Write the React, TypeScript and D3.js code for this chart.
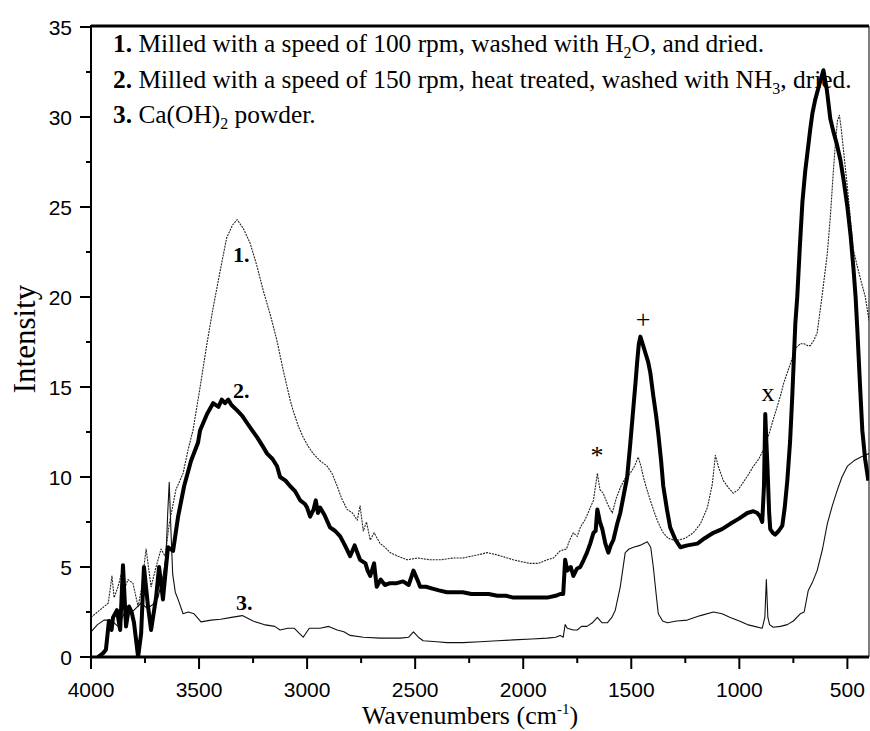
import React from "react";
import * as d3 from "d3";

// Series 1: milled 100 rpm, washed with H2O (thin dotted)
const wn1 = [4000, 3970, 3940, 3920, 3903, 3893, 3875, 3860, 3845, 3829, 3806, 3782, 3768, 3745, 3722, 3699, 3676, 3657, 3638, 3607, 3574, 3551, 3528, 3495, 3465, 3435, 3400, 3372, 3345, 3324, 3295, 3264, 3234, 3204, 3170, 3140, 3110, 3079, 3065, 3040, 3018, 2995, 2972, 2940, 2907, 2885, 2861, 2840, 2815, 2790, 2768, 2755, 2740, 2725, 2708, 2690, 2662, 2640, 2616, 2580, 2537, 2490, 2431, 2380, 2324, 2280, 2240, 2200, 2167, 2130, 2100, 2046, 2010, 1968, 1930, 1889, 1860, 1829, 1800, 1785, 1768, 1750, 1736, 1715, 1700, 1690, 1675, 1657, 1645, 1630, 1610, 1588, 1570, 1551, 1530, 1505, 1485, 1468, 1455, 1444, 1430, 1412, 1395, 1380, 1365, 1352, 1330, 1306, 1280, 1250, 1213, 1180, 1148, 1125, 1111, 1095, 1074, 1050, 1028, 1005, 982, 960, 935, 910, 889, 865, 843, 825, 810, 795, 778, 755, 736, 718, 700, 685, 671, 655, 640, 620, 593, 578, 565, 555, 546, 537, 528, 515, 500, 485, 472, 454, 435, 417, 400];
const s1 = [2.2, 2.5, 2.8, 3.0, 4.5, 3.3, 3.9, 4.6, 3.8, 4.3, 4.1, 2.8, 3.7, 6.0, 3.9, 5.0, 6.0, 5.6, 7.4, 9.3, 10.2, 11.5, 12.6, 15.0, 17.3, 19.4, 21.6, 23.3, 24.0, 24.3, 23.8, 23.0, 21.8, 20.4, 19.0, 17.6, 15.9, 14.3, 13.7, 12.8, 12.2, 11.7, 11.3, 10.9, 10.6, 10.2, 9.5, 8.8, 8.2, 8.0, 7.6, 8.4, 7.0, 7.5, 6.5, 6.9, 6.3, 6.1, 5.8, 5.6, 5.4, 5.5, 5.4, 5.4, 5.5, 5.5, 5.6, 5.7, 5.8, 5.7, 5.6, 5.4, 5.3, 5.2, 5.2, 5.4, 5.5, 5.9, 6.0, 6.5, 6.9, 6.7, 7.2, 7.6, 8.0, 8.3, 8.7, 10.2, 9.3, 9.1, 8.5, 8.0, 8.8, 9.4, 9.9, 10.2, 10.6, 11.1, 10.6, 10.0, 9.4, 8.7, 8.1, 7.6, 7.2, 6.9, 6.6, 6.5, 6.5, 6.6, 6.9, 7.4, 8.3, 9.6, 11.2, 10.5, 9.8, 9.4, 9.1, 9.3, 9.7, 10.1, 10.6, 11.0, 11.5, 12.3, 13.2, 13.9, 14.5, 15.2, 15.8, 16.6, 17.2, 17.4, 17.4, 17.3, 17.3, 17.6, 18.0, 19.8, 22.4, 24.6, 27.0, 28.6, 29.8, 30.1, 29.3, 27.8, 26.1, 24.2, 22.6, 21.7, 20.8, 20.0, 18.7];

// Series 2: milled 150 rpm, heat treated, washed with NH3 (thick)
const wn2 = [3968, 3945, 3931, 3917, 3905, 3898, 3880, 3865, 3852, 3838, 3824, 3812, 3801, 3782, 3768, 3755, 3736, 3722, 3699, 3685, 3667, 3644, 3620, 3597, 3569, 3537, 3505, 3495, 3463, 3435, 3410, 3395, 3380, 3365, 3350, 3324, 3300, 3278, 3255, 3231, 3210, 3185, 3160, 3139, 3125, 3100, 3079, 3055, 3032, 3010, 3000, 2986, 2970, 2960, 2950, 2940, 2920, 2894, 2870, 2847, 2825, 2801, 2780, 2768, 2755, 2730, 2720, 2708, 2690, 2678, 2660, 2640, 2616, 2585, 2556, 2530, 2508, 2490, 2477, 2450, 2420, 2390, 2353, 2320, 2280, 2240, 2199, 2160, 2120, 2080, 2046, 2000, 1950, 1920, 1889, 1850, 1829, 1815, 1806, 1796, 1780, 1768, 1752, 1736, 1720, 1705, 1690, 1675, 1665, 1657, 1645, 1634, 1620, 1606, 1595, 1583, 1565, 1551, 1535, 1519, 1505, 1490, 1480, 1472, 1465, 1458, 1445, 1435, 1422, 1412, 1398, 1385, 1375, 1362, 1352, 1335, 1320, 1295, 1273, 1240, 1194, 1160, 1120, 1080, 1042, 1000, 963, 935, 917, 904, 894, 886, 880, 875, 870, 862, 857, 845, 834, 818, 801, 790, 778, 765, 755, 741, 732, 720, 708, 695, 685, 672, 662, 650, 639, 625, 611, 595, 579, 565, 549, 532, 515, 500, 485, 472, 462, 454, 442, 431, 418, 403];
const s2 = [0.0, 0.2, 0.4, 2.0, 1.5, 2.2, 2.6, 1.5, 5.1, 1.7, 2.8, 2.5, 1.9, 0.0, 1.3, 5.0, 2.8, 1.5, 3.3, 5.0, 3.2, 6.1, 5.9, 7.8, 9.5, 10.9, 11.9, 12.6, 13.5, 14.1, 13.9, 14.3, 14.1, 14.3, 14.0, 13.7, 13.4, 13.0, 12.6, 12.2, 11.8, 11.3, 11.0, 10.6, 10.0, 9.8, 9.5, 9.2, 8.7, 8.5, 8.3, 7.8, 8.2, 8.7, 8.0, 8.3, 7.9, 7.2, 7.0, 6.7, 6.2, 5.6, 6.2, 5.8, 5.4, 5.2, 4.8, 4.5, 5.2, 3.9, 4.3, 4.0, 4.1, 4.1, 4.2, 4.0, 4.8, 4.3, 3.9, 3.9, 3.8, 3.7, 3.6, 3.6, 3.6, 3.5, 3.5, 3.5, 3.4, 3.4, 3.3, 3.3, 3.3, 3.3, 3.3, 3.4, 3.5, 3.5, 5.4, 4.8, 5.0, 4.5, 4.9, 5.0, 5.4, 5.8, 6.3, 6.9, 7.0, 8.2, 7.5, 7.1, 6.3, 5.8, 6.2, 6.5, 7.4, 8.0, 9.0, 10.0, 11.8, 13.9, 15.3, 16.5, 17.4, 17.8, 17.3, 16.9, 16.4, 15.8, 14.5, 13.4, 12.4, 10.9, 9.5, 8.2, 7.2, 6.5, 6.1, 6.2, 6.3, 6.6, 6.9, 7.1, 7.4, 7.7, 8.0, 8.1, 8.0, 7.8, 7.5, 9.5, 13.5, 12.0, 10.6, 8.0, 7.1, 6.9, 6.8, 7.0, 7.3, 8.3, 9.8, 12.0, 14.5, 18.5, 20.0, 22.8, 25.3, 27.0, 28.0, 29.3, 30.2, 30.9, 31.4, 32.0, 32.6, 31.5, 29.9, 29.2, 28.5, 27.6, 26.3, 25.0, 23.4, 21.6, 20.0, 18.2, 15.2, 12.6, 11.0, 9.8];

// Series 3: Ca(OH)2 powder (thin solid)
const wn3 = [4000, 3970, 3940, 3907, 3875, 3847, 3801, 3768, 3740, 3715, 3690, 3665, 3653, 3645, 3638, 3630, 3622, 3610, 3597, 3574, 3550, 3523, 3491, 3444, 3400, 3350, 3300, 3250, 3200, 3150, 3125, 3090, 3060, 3035, 3018, 2990, 2940, 2900, 2861, 2830, 2801, 2740, 2662, 2569, 2530, 2508, 2485, 2463, 2400, 2353, 2280, 2199, 2120, 2046, 1960, 1889, 1850, 1829, 1815, 1806, 1796, 1768, 1750, 1730, 1705, 1680, 1657, 1635, 1611, 1590, 1574, 1551, 1528, 1510, 1490, 1460, 1426, 1410, 1398, 1385, 1375, 1355, 1333, 1290, 1241, 1180, 1120, 1080, 1042, 1000, 963, 930, 894, 882, 875, 868, 860, 843, 810, 778, 750, 718, 700, 681, 660, 640, 615, 593, 570, 546, 525, 500, 470, 440, 400];
const s3 = [1.4, 1.8, 2.05, 2.05, 1.7, 2.4, 2.6, 3.0, 2.7, 2.9, 3.3, 4.6, 5.6, 8.0, 9.7, 7.0, 4.6, 3.6, 3.2, 2.4, 2.5, 2.4, 1.95, 2.05, 2.1, 2.2, 2.3, 2.0, 1.8, 1.7, 1.5, 1.6, 1.6, 1.3, 1.1, 1.6, 1.6, 1.7, 1.5, 1.4, 1.2, 1.1, 1.05, 1.05, 1.1, 1.4, 1.1, 0.9, 0.85, 0.8, 0.8, 0.85, 0.9, 0.95, 1.0, 1.05, 1.1, 1.2, 1.1, 1.8, 1.6, 1.5, 1.5, 1.7, 1.7, 1.9, 2.2, 1.9, 1.9, 2.2, 2.6, 3.9, 5.8, 6.0, 6.1, 6.2, 6.4, 6.1, 5.0, 3.5, 2.4, 2.0, 1.9, 2.0, 2.05, 2.3, 2.5, 2.4, 2.2, 2.0, 1.8, 1.7, 1.6, 2.2, 4.3, 2.2, 1.8, 1.65, 1.7, 1.8, 2.0, 2.4, 2.5, 3.7, 4.2, 4.8, 6.0, 7.4, 8.4, 9.3, 10.0, 10.6, 10.9, 11.1, 11.3];

const xTicks = [4000, 3500, 3000, 2500, 2000, 1500, 1000, 500];
const xMinor = [3750, 3250, 2750, 2250, 1750, 1250, 750];
const yTicks = [0, 5, 10, 15, 20, 25, 30, 35];
const yMinor = [2.5, 7.5, 12.5, 17.5, 22.5, 27.5, 32.5];

const W = 870;
const H = 731;
const L = 91;
const R = 869;
const T = 27;
const B = 657;

const serif = "'Liberation Serif', 'Times New Roman', Times, serif";
const sans = "'Liberation Sans', Arial, Helvetica, sans-serif";

export default function App() {
  const x = d3.scaleLinear().domain([4000, 400]).range([L, R]);
  const y = d3.scaleLinear().domain([0, 35]).range([B, T]);
  const mk = (wn: number[], v: number[]) =>
    d3
      .line<number>()
      .x((_, i) => x(wn[i]))
      .y((d) => y(d))(v) || "";

  return (
    <svg
      width={W}
      height={H}
      style={{ position: "absolute", left: 0, top: 0, background: "#fff" }}
    >
      <defs>
        <clipPath id="plot">
          <rect x={L} y={T - 2} width={R - L} height={B - T + 2} />
        </clipPath>
      </defs>
      <g clipPath="url(#plot)" fill="none" strokeLinejoin="round">
        <path d={mk(wn3, s3)} stroke="#111" strokeWidth={1.1} />
        <path d={mk(wn1, s1)} stroke="#222" strokeWidth={1.1} strokeDasharray="2 1" />
        <path d={mk(wn2, s2)} stroke="#000" strokeWidth={4} />
      </g>

      {/* frame */}
      <line x1={L} x2={R} y1={T - 1} y2={T - 1} stroke="#000" strokeWidth={3} />
      <line x1={R} x2={R} y1={T - 1} y2={B} stroke="#000" strokeWidth={1} />
      <line x1={L} x2={L} y1={T - 2} y2={B + 1} stroke="#000" strokeWidth={2} />
      <line x1={L - 1} x2={R} y1={B} y2={B} stroke="#000" strokeWidth={3} />

      {/* y ticks */}
      {yTicks.map((t) => (
        <g key={"y" + t}>
          <line x1={L - 11} x2={L} y1={y(t)} y2={y(t)} stroke="#000" strokeWidth={2} />
          <text
            x={72}
            y={y(t)}
            dy="0.36em"
            textAnchor="end"
            fontFamily={sans}
            fontSize={21}
          >
            {t}
          </text>
        </g>
      ))}
      {yMinor.map((t) => (
        <line key={"ym" + t} x1={L - 5} x2={L} y1={y(t)} y2={y(t)} stroke="#000" strokeWidth={2} />
      ))}

      {/* x ticks */}
      {xTicks.map((t) => (
        <g key={"x" + t}>
          <line x1={x(t)} x2={x(t)} y1={B} y2={B + 12} stroke="#000" strokeWidth={2} />
          <text
            x={x(t)}
            y={697}
            textAnchor="middle"
            fontFamily={sans}
            fontSize={21}
          >
            {t}
          </text>
        </g>
      ))}
      {xMinor.map((t) => (
        <line key={"xm" + t} x1={x(t)} x2={x(t)} y1={B} y2={B + 6} stroke="#000" strokeWidth={2} />
      ))}

      {/* axis titles */}
      <text
        x={470}
        y={724}
        textAnchor="middle"
        fontFamily={serif}
        fontSize={26}
      >
        Wavenumbers (cm<tspan dy={-10} fontSize={15}>-1</tspan>
        <tspan dy={10}>)</tspan>
      </text>
      <text
        transform="translate(35,339) rotate(-90)"
        textAnchor="middle"
        fontFamily={serif}
        fontSize={31}
      >
        Intensity
      </text>

      {/* legend text */}
      <g fontFamily={serif} fontSize={25.4}>
        <text x={113} y={52}>
          <tspan fontWeight="bold">1.</tspan> Milled with a speed of 100 rpm, washed with H
          <tspan dy={6} fontSize={16}>2</tspan>
          <tspan dy={-6}>O, and dried.</tspan>
        </text>
        <text x={113} y={88}>
          <tspan fontWeight="bold">2.</tspan> Milled with a speed of 150 rpm, heat treated, washed with NH
          <tspan dy={6} fontSize={16}>3</tspan>
          <tspan dy={-6}>, dried.</tspan>
        </text>
        <text x={113} y={123}>
          <tspan fontWeight="bold">3.</tspan> Ca(OH)
          <tspan dy={6} fontSize={16}>2</tspan>
          <tspan dy={-6}> powder.</tspan>
        </text>
      </g>

      {/* annotations */}
      <g fontFamily={serif} fontWeight="bold" fontSize={22}>
        <text x={233} y={262}>1.</text>
        <text x={233} y={398}>2.</text>
        <text x={236} y={610}>3.</text>
      </g>
      <g fontFamily={serif} fontSize={26} textAnchor="middle" fill="#000">
        <text x={643} y={328}>+</text>
        <text x={597} y={464}>*</text>
        <text x={768} y={401}>x</text>
      </g>
    </svg>
  );
}
